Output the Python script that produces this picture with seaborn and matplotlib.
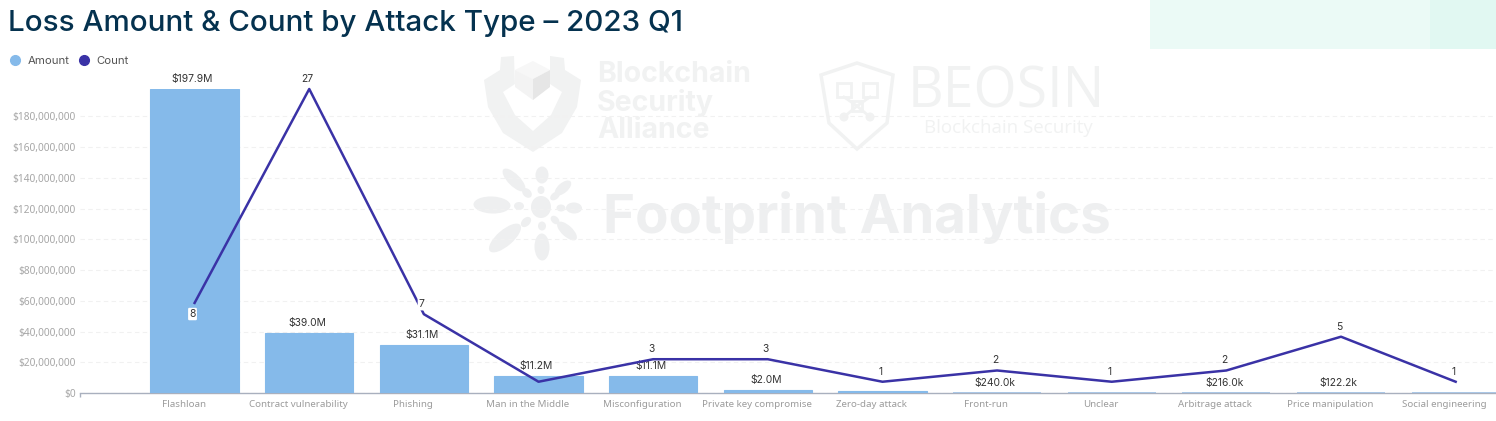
"""
Loss Amount & Count by Attack Type - 2023 Q1
"""

import numpy as np
import pandas as pd
import matplotlib
matplotlib.use('Agg')
import matplotlib.pyplot as plt
import seaborn as sns
from matplotlib.lines import Line2D
from matplotlib.patches import Ellipse, Polygon, Rectangle
from matplotlib.transforms import ScaledTranslation

# data
attack_types = ['Flashloan', 'Contract vulnerability', 'Phishing', 'Man in the Middle',
                'Misconfiguration', 'Private key compromise', 'Zero-day attack', 'Front-run',
                'Unclear', 'Arbitrage attack', 'Price manipulation', 'Social engineering']
amounts = [197.9e6, 39.0e6, 31.1e6, 11.2e6, 11.1e6, 2.0e6, 1.6e6, 240e3, 230e3, 216e3, 122.2e3, 100e3]
amount_labels = ['$197.9M', '$39.0M', '$31.1M', '$11.2M', '$11.1M', '$2.0M', '', '$240.0k',
                 '', '$216.0k', '$122.2k', '']
counts = [8, 27, 7, 1, 3, 3, 1, 2, 1, 2, 5, 1]
count_labels = ['8', '27', '7', '', '3', '3', '1', '2', '1', '2', '5', '1']
amount_ticks = [0, 20e6, 40e6, 60e6, 80e6, 100e6, 120e6, 140e6, 160e6, 180e6]

BAR = '#85BAEA'
LINE = '#3A32A6'
TITLE = '#05324F'
TICK = '#A6A6A6'
CAT = '#9C9C9C'
LABEL = '#333333'
GRID = '#F1F1F1'
AXIS = '#A9B0BE'
MARK = '#F1F2F2'
MARK2 = '#EEEFF0'
SMALL = ['Noto Sans', 'DejaVu Sans']

W, H = 1496, 421
plt.rcParams['font.family'] = ['Inter', 'DejaVu Sans']

df = pd.DataFrame({'attack': attack_types, 'amount': amounts, 'count': counts})

fig = plt.figure(figsize=(W / 100, H / 100), dpi=100, facecolor='white')

# ── backdrop: pixel coordinates, watermarks and title band ──
bg = fig.add_axes([0, 0, 1, 1], zorder=0)
bg.set_xlim(0, W)
bg.set_ylim(H, 0)
bg.axis('off')

bg.add_patch(Rectangle((1150, 0), 346, 49, color='#EBFAF6', lw=0))
bg.add_patch(Rectangle((1430, 0), 66, 49, color='#E1F8F2', lw=0))

# Blockchain Security Alliance shield
bg.add_patch(Polygon([(501, 57), (514, 56), (515, 87), (533, 100), (550, 87), (550, 56), (564, 58),
                      (565, 70), (581, 80), (577, 107), (562, 133), (533, 152), (503, 133),
                      (488, 107), (484, 80), (500, 70)], closed=True, color=MARK, lw=0))
bg.add_patch(Polygon([(515, 84), (503, 92), (515, 115), (533, 131), (551, 115), (562, 92), (550, 84),
                      (533, 100)], closed=True, color='white', lw=0))
bg.add_patch(Polygon([(515, 70), (533, 61), (550, 70), (533, 79)], closed=True, color='#F7F7F7', lw=0))
bg.add_patch(Polygon([(515, 70), (533, 79), (533, 100), (515, 87)], closed=True, color='#F3F3F3', lw=0))
bg.add_patch(Polygon([(533, 79), (550, 70), (550, 87), (533, 100)], closed=True, color='#E6E6E6', lw=0))
for y, word in zip([75, 103, 130], ['Blockchain', 'Security', 'Alliance']):
    bg.text(597, y, word, fontsize=20.5, fontweight='bold', color=MARK, ha='left', va='center')

# BEOSIN shield
bg.add_patch(Polygon([(821, 75), (857, 63), (893, 75), (887, 123), (857, 149), (829, 123)],
                     closed=True, fill=False, ec=MARK, lw=2.5))
for x in [844, 870]:
    bg.add_patch(Rectangle((x - 7, 83), 14, 14, fill=False, ec=MARK, lw=2))
    bg.add_patch(Ellipse((x, 117), 9, 9, color=MARK, lw=0))
    bg.plot([x, 857], [97, 106], color=MARK, lw=2)
    bg.plot([x, 857], [117, 106], color=MARK, lw=2)
bg.add_patch(Rectangle((852, 101), 10, 10, fill=False, ec=MARK, lw=2))
bg.text(1006, 93, 'BEOSIN', fontsize=40, color=MARK, ha='center', va='center', fontfamily='Open Sans')
bg.text(1008, 128, 'Blockchain Security', fontsize=13.5, color=MARK, ha='center', va='center',
        fontfamily='Open Sans')

# Footprint flower: centre, then petals as (x, y, length, width)
cx, cy = 541, 207
petals = [(542, 175, 17, 13), (542, 247, 27, 15), (492, 205, 37, 17), (574, 208, 16, 11),
          (514, 180, 30, 12), (563, 188, 20, 10), (505, 238, 40, 16), (567, 231, 25, 11),
          (527, 193, 11, 8), (555, 196, 11, 7), (519, 206, 10, 8), (561, 208, 9, 7),
          (526, 222, 12, 8), (555, 220, 10, 7), (542, 226, 9, 8), (541, 190, 8, 7)]
for px, py, length, wid in petals:
    bg.add_patch(Ellipse((px, py), length, wid, angle=np.degrees(np.arctan2(py - cy, px - cx)),
                         color=MARK2, lw=0))
bg.add_patch(Ellipse((cx, cy), 20, 22, color=MARK2, lw=0))
bg.text(857, 217, 'Footprint Analytics', fontsize=39.3, fontweight='bold', color=MARK2,
        ha='center', va='center')

# title
bg.text(8, 23.5, 'Loss Amount & Count by Attack Type – 2023 Q1', fontsize=21.3, fontweight='medium',
        color=TITLE, ha='left', va='center')

# ── main axes: baseline at y=393, top of the tallest bar at y=89 ──
x0, x1 = 80, W
ax = fig.add_axes([x0 / W, (H - 393) / H, (x1 - x0) / W, (393 - 89) / H], zorder=1)
ax.patch.set_alpha(0)

sns.barplot(data=df, x='attack', y='amount', color=BAR, width=0.77, saturation=1, ax=ax, zorder=3,
            edgecolor=BAR, linewidth=0.8)
# the tiniest bars still show as a thin strip on the baseline
for bar in ax.patches:
    if bar.get_height() < 1e6:
        bar.set_linewidth(1.4)
        bar.set_edgecolor('#A9C6E6')

band = 114.64
ax.set_xlim((x0 - 194.6) / band, (x1 - 194.6) / band)
ax.set_ylim(0, max(amounts))
ax.set_xlabel('')
ax.set_ylabel('')
ax.set_yticks(amount_ticks)
ax.set_yticklabels([f'${v:,.0f}' for v in amount_ticks], fontfamily=SMALL)
ax.tick_params(axis='y', length=0, pad=3, labelsize=7.3, labelcolor=TICK)
ax.tick_params(axis='x', which='major', length=0, pad=5, labelsize=7.0, labelcolor=CAT)
ax.set_xticks([ax.get_xlim()[0]], minor=True)
ax.tick_params(axis='x', which='minor', length=3, width=1, color=AXIS)
ax.yaxis.grid(True, color=GRID, lw=0.8, ls=(0, (4, 3)), zorder=0)
ax.set_axisbelow(True)
for side in ['top', 'right', 'left']:
    ax.spines[side].set_visible(False)
ax.spines['bottom'].set_color(AXIS)
ax.spines['bottom'].set_linewidth(1)

# category labels sit a little left of their bars in the original
shift = ScaledTranslation(-11 / 100, 0, fig.dpi_scale_trans)
for lab in ax.get_xticklabels():
    lab.set_fontfamily(SMALL)
    lab.set_transform(lab.get_transform() + shift)

# ── count line on its own scale, 27 level with the tallest bar ──
ax2 = ax.twinx()
ax2.set_zorder(2)
ax2.patch.set_alpha(0)
sns.lineplot(data=df, x='attack', y='count', color=LINE, lw=1.8, sort=False, errorbar=None,
             ax=ax2, clip_on=False)
ax2.set_ylim(0, max(counts))
ax2.set_xlim(ax.get_xlim())
ax2.axis('off')

halo = dict(boxstyle='round,pad=0.12', fc='white', ec='none')
for i, (txt, val) in enumerate(zip(amount_labels, amounts)):
    if txt:
        ax.annotate(txt, (i, val), xytext=(-1.5, 7.2), textcoords='offset points', ha='center',
                    va='center', fontsize=7.4, color=LABEL, zorder=6, annotation_clip=False)
for i, (txt, val) in enumerate(zip(count_labels, counts)):
    if txt:
        dy = -8 if val == 8 else 7.2
        ax2.annotate(txt, (i, val), xytext=(-1.5, dy), textcoords='offset points', ha='center',
                     va='center', fontsize=7.4, color=LABEL, zorder=6, annotation_clip=False,
                     bbox=halo if val in (7, 8) else None)

# legend
handles = [Line2D([], [], marker='o', ls='', ms=7, color=BAR),
           Line2D([], [], marker='o', ls='', ms=7, color=LINE)]
fig.legend(handles, ['Amount', 'Count'], loc='center left', bbox_to_anchor=(4 / W, (H - 61) / H),
           ncol=2, frameon=False, fontsize=8.2, labelcolor='#555555', handlelength=1, handletextpad=0.6,
           columnspacing=0.7, borderpad=0)

fig.savefig('out.png', dpi=100, facecolor='white')
